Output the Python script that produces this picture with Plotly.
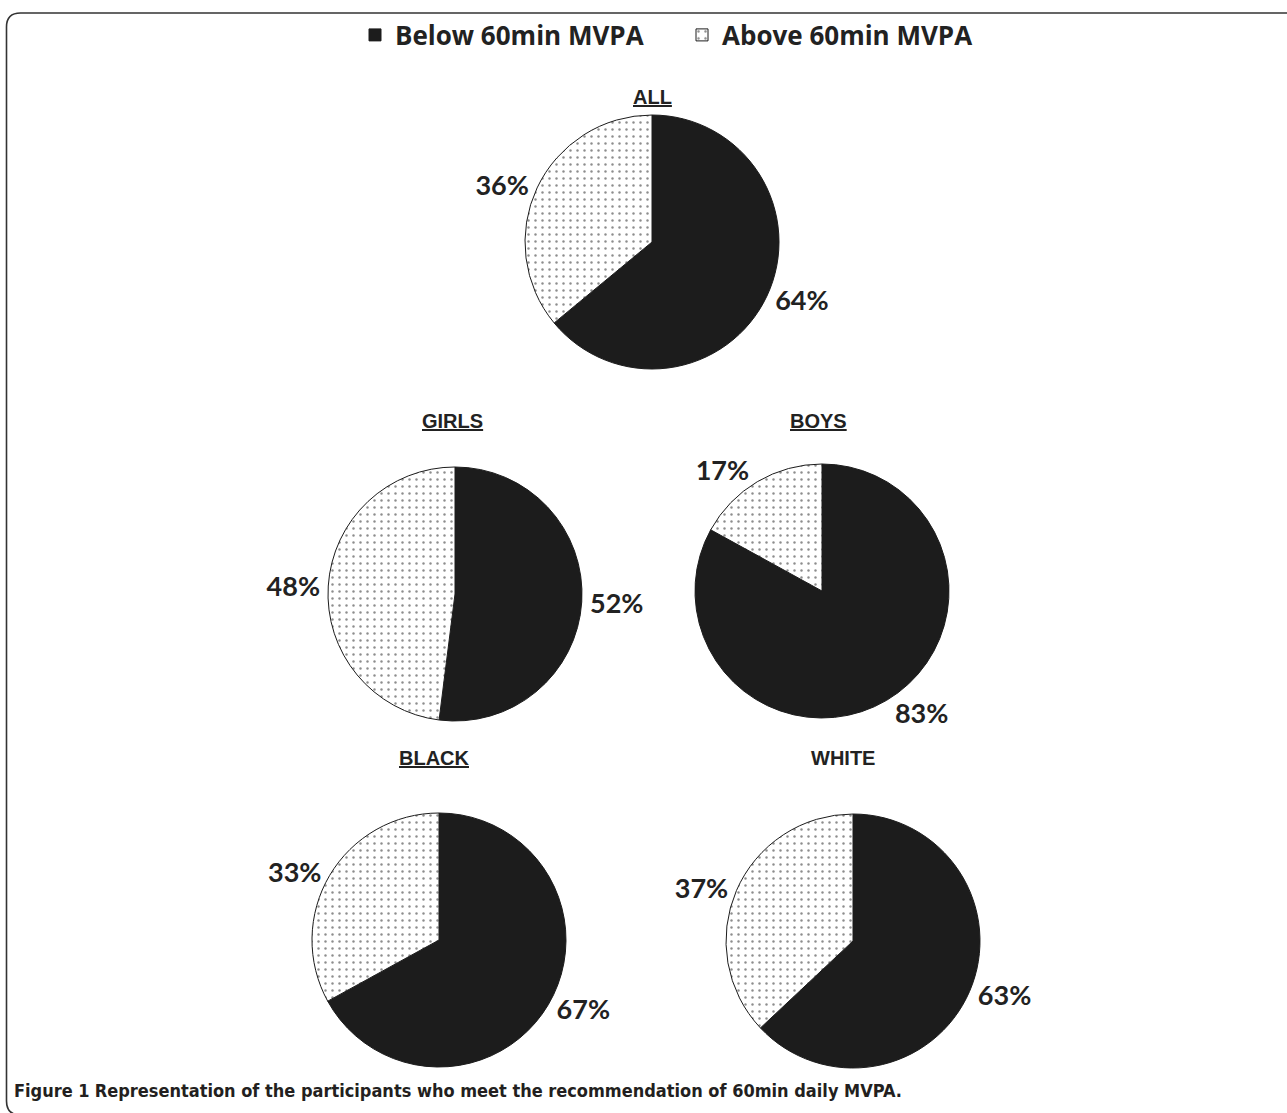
import plotly.graph_objects as go

W, H = 1287, 1113

groups = ["ALL", "GIRLS", "BOYS", "BLACK", "WHITE"]
labels = ["Below 60min MVPA", "Above 60min MVPA"]
below = [64, 52, 83, 67, 63]
above = [36, 48, 17, 33, 37]
title_underline = [True, True, True, True, False]

# layout (pixel centres / radius) for each pie
centres = [(652, 242), (455, 594), (822, 591), (439, 940), (853, 941)]
radius = 127
title_pos = [(652, 84), (452, 421), (818, 421), (434, 771), (843, 771)]

fig = go.Figure()
for i, g in enumerate(groups):
    cx, cy = centres[i]
    fig.add_trace(go.Pie(
        labels=labels,
        values=[below[i], above[i]],
        name=g,
        sort=False,
        direction="clockwise",
        rotation=0,
        texttemplate="%{value}%",
        textposition="outside",
        textfont=dict(family="Lato", size=27, color="#222222", weight="bold"),
        marker=dict(
            colors=["#1c1c1c", "white"],
            line=dict(color="#1c1c1c", width=1),
            pattern=dict(shape=["", "."], fgcolor="#1c1c1c", bgcolor="white",
                         size=7, solidity=0.1, fillmode="overlay"),
        ),
        domain=dict(x=[(cx - radius) / W, (cx + radius) / W],
                    y=[1 - (cy + radius) / H, 1 - (cy - radius) / H]),
        showlegend=(i == 0),
        hoverinfo="skip",
    ))
    tx, ty = title_pos[i]
    txt = f"<b><u>{g}</u></b>" if title_underline[i] else f"<b>{g}</b>"
    fig.add_annotation(x=tx / W, y=1 - ty / H, xref="paper", yref="paper",
                       text=txt, showarrow=False,
                       font=dict(family="Liberation Sans, Arial", size=20, color="#222222"))

fig.add_annotation(
    x=12 / W, y=1 - 1090 / H, xref="paper", yref="paper", xanchor="left", yanchor="middle",
    text="<b>Figure 1</b> <b>Representation of the participants who meet the recommendation of 60min daily MVPA.</b>",
    showarrow=False,
    font=dict(family="DejaVu Sans Condensed, DejaVu Sans", size=18, color="#231f20"))

# rounded frame
def px(x):
    return x / W
def py(y):
    return 1 - y / H
L, T, B, R, rr = 6.5, 13, 1115, 1292, 14
path = (f"M {px(R)},{py(T)} L {px(L + rr)},{py(T)} Q {px(L)},{py(T)} {px(L)},{py(T + rr)} "
        f"L {px(L)},{py(B - rr)} Q {px(L)},{py(B)} {px(L + rr)},{py(B)} L {px(R)},{py(B)}")
fig.add_shape(type="path", path=path, xref="paper", yref="paper",
              line=dict(color="#333333", width=1.6))

fig.update_layout(
    width=W, height=H,
    margin=dict(l=0, r=0, t=0, b=0),
    paper_bgcolor="white", plot_bgcolor="white",
    showlegend=True,
    legend=dict(orientation="h", x=355 / W, xanchor="left", y=1 - 35 / H, yanchor="middle",
                font=dict(family="Open Sans", size=26, color="#222222", weight="bold"),
                entrywidth=282, entrywidthmode="pixels",
                itemwidth=30, bgcolor="rgba(0,0,0,0)", traceorder="normal"),
)

fig.write_html("out.html", config={"displayModeBar": False},
               post_script="document.body.style.margin='0';")
